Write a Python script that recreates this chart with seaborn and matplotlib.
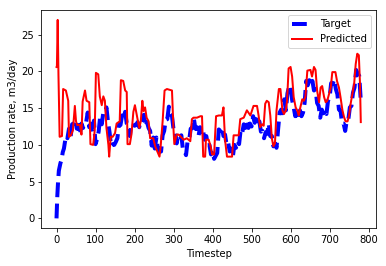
import numpy as np
import matplotlib
matplotlib.use("Agg")
import matplotlib.pyplot as plt
import seaborn as sns

target_t = [0, 2, 4, 6, 8, 10, 13, 16, 19, 22] + list(range(24, 781, 4))
target_val = [0.0, 3.0, 5.0, 6.5, 7.0, 7.5, 8.0, 9.0, 9.5, 10.5,
              11.2, 10.9, 12.2, 11.0, 12.8, 12.9, 13.4, 12.2, 12.7, 11.4,
              12.9, 12.3, 13.0, 13.1, 14.4, 12.4, 12.9, 11.6, 13.3, 10.1,
              10.8, 11.8, 13.9, 12.8, 14.4, 14.4, 15.1, 13.1, 11.7, 9.8,
              10.1, 10.0, 10.4, 10.9, 12.7, 12.7, 14.0, 13.6, 14.5, 12.9,
              12.7, 11.2, 12.9, 12.9, 12.6, 12.7, 13.1, 12.4, 13.5, 13.4,
              14.1, 12.5, 13.1, 12.3, 11.9, 9.9, 11.0, 9.5, 11.0, 9.4,
              9.1, 9.1, 11.3, 11.9, 13.4, 13.5, 15.2, 14.2, 13.9, 12.1,
              12.0, 10.2, 11.4, 11.1, 11.3, 9.4, 9.2, 8.6, 10.5, 10.6,
              12.2, 12.3, 13.6, 12.2, 12.4, 11.2, 12.4, 11.3, 11.8, 10.7,
              11.2, 9.9, 10.0, 8.7, 9.2, 8.1, 8.5, 8.9, 12.1, 11.9,
              12.4, 11.2, 11.4, 10.0, 10.3, 9.1, 9.5, 8.4, 10.0, 9.6,
              10.5, 10.1, 12.0, 11.6, 12.8, 12.3, 13.3, 12.3, 12.9, 12.5,
              13.9, 13.0, 13.5, 12.7, 13.2, 11.8, 11.9, 10.9, 11.7, 11.5,
              12.9, 11.2, 11.2, 9.8, 10.2, 9.6, 12.1, 14.4, 14.8, 14.3,
              16.2, 14.7, 17.0, 17.9, 18.1, 16.1, 15.1, 13.9, 14.3, 13.6,
              14.7, 13.9, 14.4, 15.7, 18.7, 18.1, 18.8, 18.1, 18.7, 17.4,
              17.6, 15.7, 15.3, 13.7, 14.8, 14.3, 14.8, 14.2, 16.0, 16.4,
              18.4, 18.3, 18.9, 17.6, 16.9, 14.8, 14.7, 12.9, 12.9, 11.9,
              13.3, 13.4, 15.1, 15.3, 17.1, 17.8, 20.2, 19.7, 19.4, 16.0]

pred_t = [0, 1, 3, 5, 8, 14, 17, 24, 30, 32, 37, 42, 47, 50, 53, 60, 64, 67, 73, 77,
          84, 87, 94, 98, 101, 107, 111, 116, 120, 124, 128, 133, 135, 139, 144, 150, 154, 162, 165, 171,
          176, 180, 182, 188, 192, 197, 201, 206, 212, 216, 220, 223, 227, 231, 236, 240, 248, 253, 257, 264,
          267, 272, 277, 283, 296, 300, 302, 308, 313, 326, 334, 343, 347, 351, 360, 369, 373, 376, 381, 383,
          390, 395, 399, 404, 409, 416, 424, 428, 432, 437, 450, 454, 467, 471, 480, 488, 497, 505, 514, 518,
          522, 527, 531, 535, 539, 544, 548, 552, 556, 560, 564, 570, 574, 579, 583, 588, 591, 595, 600, 604,
          608, 613, 617, 621, 625, 630, 634, 638, 643, 651, 655, 660, 664, 668, 673, 677, 681, 686, 690, 694,
          698, 703, 707, 715, 719, 724, 728, 733, 737, 741, 746, 750, 754, 758, 763, 767, 771, 775, 778, 780]
pred_val = [20.6, 20.7, 27.0, 19.5, 11.1, 11.2, 17.6, 17.4, 16.0, 11.1, 11.3, 12.0, 15.3, 13.2, 12.7, 12.7, 11.4, 15.9, 17.4, 16.0,
            15.8, 10.1, 10.0, 12.0, 19.8, 19.6, 16.6, 15.4, 16.6, 16.0, 12.3, 10.0, 8.4, 11.1, 11.1, 11.6, 12.9, 13.2, 18.8, 18.7,
            17.4, 17.2, 10.1, 10.1, 11.4, 14.5, 15.4, 14.0, 12.3, 13.2, 16.0, 14.6, 15.1, 13.7, 13.2, 10.9, 10.9, 9.8, 9.3, 8.4,
            9.8, 13.2, 17.4, 17.6, 17.4, 12.0, 10.1, 11.4, 11.4, 10.7, 10.9, 10.5, 13.5, 13.7, 13.7, 13.9, 13.9, 8.4, 8.4, 10.7,
            10.7, 9.8, 8.7, 8.7, 13.9, 14.0, 14.0, 15.1, 10.7, 8.4, 8.4, 11.3, 11.3, 13.5, 13.7, 14.7, 14.0, 15.3, 15.3, 14.0,
            12.4, 12.8, 12.6, 15.6, 16.0, 15.8, 14.0, 10.9, 9.8, 10.2, 14.7, 17.6, 17.6, 14.7, 14.2, 14.7, 16.0, 20.4, 20.6, 19.3,
            16.5, 15.1, 14.7, 14.0, 15.1, 16.2, 16.0, 16.5, 20.1, 20.2, 19.3, 20.6, 20.2, 17.4, 15.8, 17.8, 18.0, 16.5, 15.8, 16.0,
            16.8, 17.8, 19.9, 19.9, 18.7, 17.8, 16.5, 14.7, 13.8, 13.2, 13.2, 14.0, 15.6, 16.8, 18.3, 21.0, 22.4, 22.2, 18.3, 13.1]

fig = plt.figure(figsize=(386 / 72, 266 / 72), dpi=72)
ax = fig.add_axes([41.3 / 386, 1 - 228.3 / 266, (376 - 41.3) / 386, (228.3 - 10) / 266])

sns.lineplot(x=target_t, y=target_val, ax=ax, color="blue", linestyle="--", linewidth=4, label="Target")
sns.lineplot(x=pred_t, y=pred_val, ax=ax, color="red", linewidth=2, label="Predicted")

ax.set_xticks(np.arange(0, 801, 100))
ax.set_xlabel("Timestep")
ax.set_ylabel("Production rate, m3/day")
ax.legend(loc="upper right")

fig.savefig("out.png", dpi=72)
